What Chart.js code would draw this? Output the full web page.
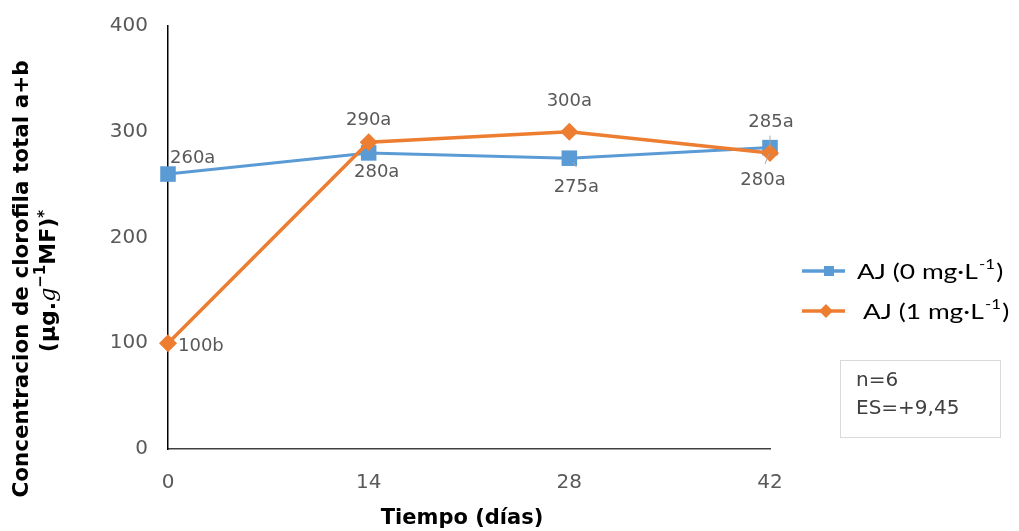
<!DOCTYPE html>
<html><head><meta charset="utf-8">
<script src="https://cdn.jsdelivr.net/npm/chart.js@4/dist/chart.umd.min.js"></script>
<style>html,body{margin:0;padding:0;background:#fff;}#wrap{width:1019px;height:531px;}</style>
</head><body><div id="wrap"><canvas id="c" width="1019" height="531"></canvas></div>
<script>
// ---- data ----
const categories = ['0', '14', '28', '42'];
const ctrlName = 'AJ (0 mg·L';
const jaName = 'AJ (1 mg·L';
const ctrlValues = [260, 280, 275, 285];
const jaValues = [100, 290, 300, 280];
const ctrlLetters = ['a', 'a', 'a', 'a'];
const jaLetters = ['b', 'a', 'a', 'a'];
const yMin = 0, yMax = 400, yStep = 100;
const noteLines = ['n=6', 'ES=+9,45'];
const xTitle = 'Tiempo (días)';
const yTitle1 = 'Concentracion de clorofila total a+b';

// ---- styles ----
const BLUE = '#5B9BD5', ORANGE = '#ED7D31', GREY = '#595959';
const labelFont = '18px "DejaVu Sans"';
// [dx, dy, align] relative to each point
const ctrlLabelPos = [[2, -16, 'left'], [8, 19, 'center'], [7, 29, 'center'], [1, -25, 'center']];
const jaLabelPos = [[10, 3, 'left'], [0, -22, 'center'], [0, -30, 'center'], [-7, 27, 'center']];

const overlay = {
  id: 'overlay',
  afterDatasetsDraw(chart) {
    const ctx = chart.ctx;
    ctx.save();
    const mb = chart.getDatasetMeta(1).data, mo = chart.getDatasetMeta(0).data;
    ctx.strokeStyle = '#a6a6a6'; ctx.lineWidth = 1;
    ctx.beginPath();
    ctx.moveTo(mb[3].x, mb[3].y - 12); ctx.lineTo(mb[3].x, mb[3].y);
    ctx.moveTo(mo[3].x - 1, mo[3].y + 1); ctx.lineTo(mo[3].x - 5, mo[3].y + 11);
    ctx.moveTo(mb[2].x + 4, mb[2].y + 4); ctx.lineTo(mb[2].x + 7, mb[2].y + 9);
    ctx.stroke();
    ctx.font = labelFont; ctx.fillStyle = GREY; ctx.textBaseline = 'middle';
    const draw = (meta, vals, letters, pos) => {
      meta.data.forEach((p, i) => {
        ctx.textAlign = pos[i][2];
        ctx.fillText(vals[i] + letters[i], p.x + pos[i][0], p.y + pos[i][1]);
      });
    };
    draw(chart.getDatasetMeta(1), ctrlValues, ctrlLetters, ctrlLabelPos);
    draw(chart.getDatasetMeta(0), jaValues, jaLetters, jaLabelPos);
    ctx.restore();
  },
  afterDraw(chart) {
    const ctx = chart.ctx;
    ctx.save();
    // x title
    ctx.fillStyle = '#000'; ctx.font = 'bold 21px "DejaVu Sans"';
    ctx.textAlign = 'center'; ctx.textBaseline = 'middle';
    ctx.fillText(xTitle, 462, 519);
    // y title
    ctx.save();
    ctx.translate(22, 279); ctx.rotate(-Math.PI / 2);
    ctx.font = 'bold 21.5px "DejaVu Sans"';
    ctx.fillText(yTitle1, 0, 0);
    ctx.restore();
    ctx.save();
    ctx.translate(49, 281); ctx.rotate(-Math.PI / 2);
    const parts = [
      ['(µg.', 'bold 22px "DejaVu Sans"', 0],
      ['g', 'italic 22px "DejaVu Serif"', 0],
      ['−1', 'bold 15px "DejaVu Sans"', -8],
      ['MF)', 'bold 22px "DejaVu Sans"', 0],
      ['*', 'bold 15px "DejaVu Sans"', -4]
    ];
    let total = 0;
    parts.forEach(p => { ctx.font = p[1]; total += ctx.measureText(p[0]).width; });
    let x = -total / 2;
    ctx.textAlign = 'left';
    parts.forEach(p => { ctx.font = p[1]; ctx.fillText(p[0], x, p[2]); x += ctx.measureText(p[0]).width; });
    ctx.restore();
    // legend
    ctx.textAlign = 'left'; ctx.textBaseline = 'middle';
    const items = [[ctrlName, BLUE, 'rect', 271, 857, 829], [jaName, ORANGE, 'rectRot', 311, 863, 826]];
    items.forEach(it => {
      const y = it[3], mx = it[5];
      ctx.strokeStyle = it[1]; ctx.lineWidth = 3.5;
      ctx.beginPath(); ctx.moveTo(802, y); ctx.lineTo(845, y); ctx.stroke();
      ctx.fillStyle = it[1];
      if (it[2] === 'rect') ctx.fillRect(mx - 5, y - 5, 10, 10);
      else { ctx.beginPath(); ctx.moveTo(mx, y - 7); ctx.lineTo(mx + 7, y); ctx.lineTo(mx, y + 7); ctx.lineTo(mx - 7, y); ctx.closePath(); ctx.fill(); }
      ctx.fillStyle = '#000';
      ctx.save();
      ctx.translate(it[4], y); ctx.scale(1.2, 1);
      let lx = 0;
      ctx.font = '22px Lato'; ctx.fillText(it[0], lx, 1); lx += ctx.measureText(it[0]).width + 1;
      ctx.font = '14px Lato'; ctx.fillText('-1', lx, -7); lx += ctx.measureText('-1').width + 1;
      ctx.font = '22px Lato'; ctx.fillText(')', lx, 1);
      ctx.restore();
    });
    // note box
    ctx.strokeStyle = '#d9d9d9'; ctx.lineWidth = 1;
    ctx.strokeRect(840.5, 360.5, 160, 77);
    ctx.fillStyle = '#404040'; ctx.font = '20px "DejaVu Sans"'; ctx.textAlign = 'left';
    ctx.fillText(noteLines[0], 856, 381);
    ctx.fillText(noteLines[1], 856, 409);
    ctx.restore();
  }
};

new Chart(document.getElementById('c'), {
  type: 'line',
  data: {
    labels: categories,
    datasets: [
      { label: jaName, data: jaValues, borderColor: ORANGE, backgroundColor: ORANGE, borderWidth: 3.5,
        pointStyle: 'rectRot', pointRadius: 9, pointHoverRadius: 9, pointBorderWidth: 0, tension: 0, order: 0, clip: false },
      { label: ctrlName, data: ctrlValues, borderColor: BLUE, backgroundColor: BLUE, borderWidth: 3,
        pointStyle: 'rect', pointRadius: 11, pointHoverRadius: 11, pointBorderWidth: 0, tension: 0, order: 1, clip: false }
    ]
  },
  options: {
    responsive: false, animation: false,
    layout: { autoPadding: false, padding: { left: 0, top: 26, right: 249, bottom: 0 } },
    plugins: { legend: { display: false }, tooltip: { enabled: false } },
    scales: {
      x: {
        offset: false,
        grid: { display: false },
        border: { display: true, color: '#404040', width: 1.5 },
        ticks: { color: GREY, font: { family: 'DejaVu Sans', size: 20 }, padding: 14, maxRotation: 0 },
        afterFit(s) { s.height = 82; }
      },
      y: {
        min: yMin, max: yMax,
        grid: { display: true, drawOnChartArea: false, drawTicks: true, tickLength: 20, tickColor: 'rgba(0,0,0,0)' },
        border: { display: true, color: '#000', width: 1.5 },
        ticks: { stepSize: yStep, color: GREY, font: { family: 'DejaVu Sans', size: 20 }, padding: 0 },
        afterFit(s) { s.width = 168; }
      }
    }
  },
  plugins: [overlay]
});
</script></body></html>
